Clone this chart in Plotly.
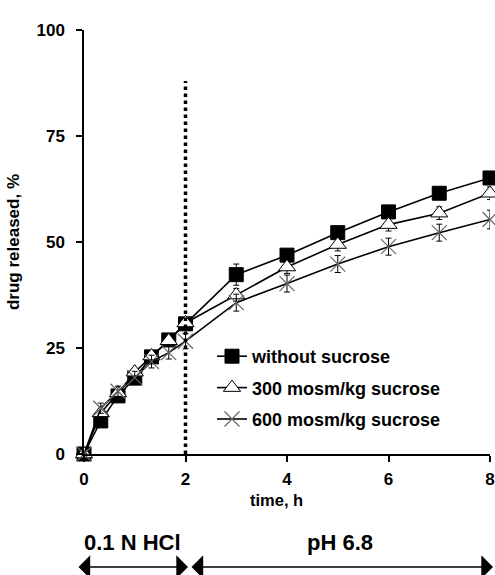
import plotly.graph_objects as go

# ---- data ----
time_h = [0, 0.33, 0.67, 1, 1.33, 1.67, 2, 3, 4, 5, 6, 7, 8]
without_sucrose = [0, 7.8, 13.7, 17.9, 22.9, 26.9, 30.7, 42.3, 46.9, 52.2, 57.1, 61.5, 65.1]
without_err = [0, 0.5, 0.5, 0.5, 0.5, 0.5, 0.5, 2.5, 1.0, 1.0, 1.0, 1.0, 1.0]
sucrose_300 = [0, 9.7, 14.4, 19.3, 23.1, 26.7, 30.9, 37.5, 44.1, 49.4, 54.1, 56.8, 61.5]
s300_err = [0, 0.8, 0.8, 0.8, 0.8, 0.8, 0.8, 1.5, 1.5, 1.5, 1.5, 1.5, 1.5]
sucrose_600 = [0, 10.8, 14.8, 18.0, 21.8, 23.9, 26.6, 35.7, 40.2, 44.8, 48.9, 52.2, 55.3]
s600_err = [0, 1.2, 1.2, 1.5, 1.5, 1.5, 1.8, 2.0, 2.0, 2.0, 2.0, 2.0, 2.2]
series_names = ["without sucrose", "300 mosm/kg sucrose", "600 mosm/kg sucrose"]
x_ticks = [0, 2, 4, 6, 8]
y_ticks = [0, 25, 50, 75, 100]
phase_change_time = 2
dotted_top = 88
phase_labels = ["0.1 N HCl", "pH 6.8"]

FONT = "Arial, Liberation Sans, sans-serif"

fig = go.Figure()

fig.add_trace(go.Scatter(
    x=time_h, y=without_sucrose, name=series_names[0], mode="lines+markers",
    line=dict(color="black", width=1.6),
    marker=dict(symbol="square", size=14, color="black", line=dict(color="black", width=1)),
    error_y=dict(type="data", array=without_err, color="black", thickness=1, width=3),
    cliponaxis=False, legendgroup="a"))
fig.add_trace(go.Scatter(
    x=time_h, y=sucrose_300, name=series_names[1], mode="lines+markers",
    line=dict(color="black", width=1.6),
    marker=dict(symbol="triangle-up", size=15, color="white", line=dict(color="black", width=1)),
    error_y=dict(type="data", array=s300_err, color="black", thickness=1, width=3),
    cliponaxis=False, legendgroup="b"))
fig.add_trace(go.Scatter(
    x=time_h, y=sucrose_600, name=series_names[2], mode="lines+markers",
    line=dict(color="black", width=1.6),
    marker=dict(symbol="x-thin-open", size=15, color="#666666", line=dict(color="#666666", width=1.2)),
    error_y=dict(type="data", array=s600_err, color="black", thickness=1, width=3),
    cliponaxis=False, legendgroup="c"))

# dotted phase-change line
fig.add_shape(type="line", xref="x", yref="y", x0=phase_change_time, x1=phase_change_time,
              y0=0, y1=dotted_top, line=dict(color="black", width=3.5, dash="dot"))

# plot-area geometry in px
L, R, T, B = 84, 5, 30, 121
W, H = 495, 575
pw, ph = W - L - R, H - T - B

def px_x(p):
    return (p - L) / pw

def px_y(p):
    return (H - B - p) / ph

annotations = [
    dict(text="time, h", x=px_x(276), y=px_y(500), xref="paper", yref="paper",
         xanchor="center", yanchor="middle", showarrow=False,
         font=dict(family=FONT, size=16.5, color="black", weight="bold")),
    dict(text=phase_labels[0], x=px_x(132), y=px_y(542), xref="paper", yref="paper",
         xanchor="center", yanchor="middle", showarrow=False,
         font=dict(family=FONT, size=22, color="black", weight="bold")),
    dict(text=phase_labels[1], x=px_x(340), y=px_y(542), xref="paper", yref="paper",
         xanchor="center", yanchor="middle", showarrow=False,
         font=dict(family=FONT, size=22, color="black", weight="bold")),
]
for tip, tail in [(188, 77), (493, 190)]:
    annotations.append(dict(
        x=px_x(tip), y=px_y(567), xref="paper", yref="paper", text="",
        showarrow=True, axref="pixel", ayref="pixel", ax=-(tip - tail), ay=0,
        arrowhead=1, arrowside="end+start", arrowsize=2.6, arrowwidth=1.5,
        arrowcolor="black", standoff=0, startstandoff=0))

fig.update_layout(
    width=W, height=H,
    margin=dict(l=L, r=R, t=T, b=B, autoexpand=False),
    plot_bgcolor="white", paper_bgcolor="white",
    font=dict(family=FONT, color="black"),
    showlegend=True,
    legend=dict(x=px_x(212), y=px_y(338), xanchor="left", yanchor="top",
                bgcolor="rgba(0,0,0,0)", tracegroupgap=5,
                font=dict(family=FONT, size=18, color="black", weight="bold")),
    annotations=annotations,
)
fig.update_xaxes(range=[0, 8], tickvals=x_ticks, showline=True, linecolor="black", linewidth=2,
                 ticks="outside", ticklen=6, tickwidth=1.5, tickcolor="black",
                 showgrid=False, zeroline=False, ticklabelstandoff=3,
                 tickfont=dict(family=FONT, size=17, color="black", weight="bold"))
fig.update_yaxes(range=[0, 100], tickvals=y_ticks, showline=True, linecolor="black", linewidth=1.5,
                 ticks="outside", ticklen=6, tickwidth=1.5, tickcolor="black",
                 showgrid=False, zeroline=False, ticklabelstandoff=8,
                 tickfont=dict(family=FONT, size=17, color="black", weight="bold"),
                 title=dict(text="drug released, %", standoff=13,
                            font=dict(family=FONT, size=17, color="black", weight="bold")))

fig.write_html("out.html")
